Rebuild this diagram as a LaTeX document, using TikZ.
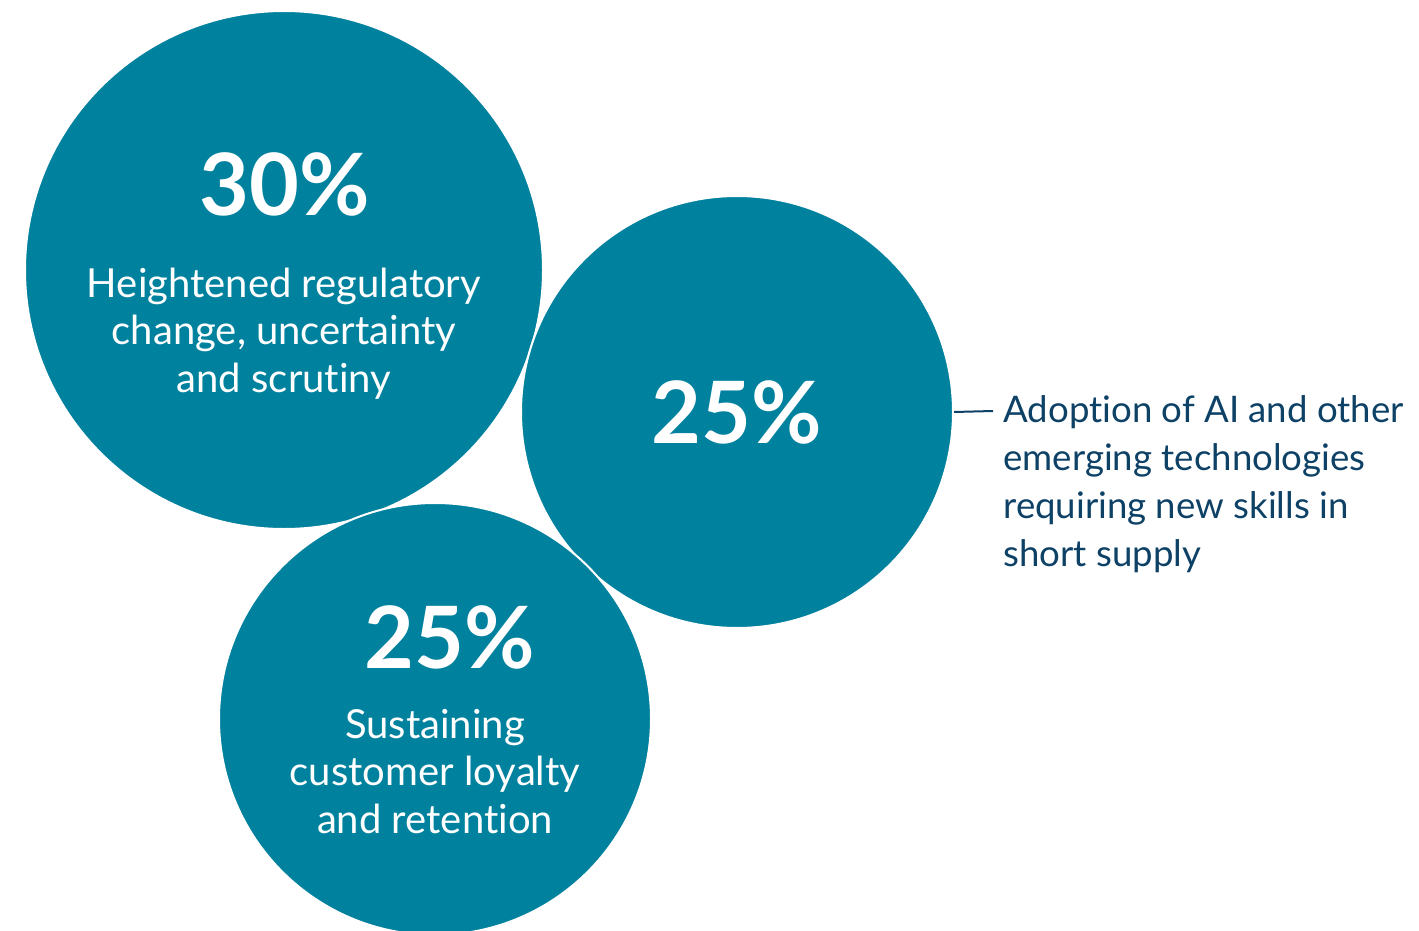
\documentclass[tikz,border=0pt]{standalone}
\usepackage{fontspec}
\setmainfont{Lato}[Ligatures=NoCommon]
\usepackage{xcolor}
\usepackage{tikz}

\definecolor{tealblue}{RGB}{0,129,158}
\definecolor{navytext}{RGB}{14,65,102}

\begin{document}
\begin{tikzpicture}[x=0.5pt, y=-0.5pt,
        bubble/.style={circle, fill=tealblue, draw=white, line width=1pt, inner sep=0pt},
        pct/.style={white, font=\fontsize{43}{43}\selectfont\bfseries, anchor=base},
        lbl/.style={white, font=\fontsize{20}{23.75}\selectfont, align=center, anchor=base},
        side/.style={navytext, font=\fontsize{18.3}{24}\selectfont, align=left, anchor=base west, inner sep=0pt}]
        \useasboundingbox (0,0) rectangle (1419,931);

        % The three circles
        \node[bubble, minimum size=259pt] (c1) at (284,270) {};
        \node[bubble, minimum size=216pt] (c2) at (737,412) {};
        \node[bubble, minimum size=216pt] (c3) at (435,719) {};

        % Circle 1 (base = last line)
        \node[pct] (p1) at (285,215) {30\%};
        \node[lbl] (l1) at (284,392) {Heightened regulatory\\change, uncertainty\\and scrutiny};

        % Circle 2
        \node[pct] (p2) at (737,443) {25\%};

        % Circle 3
        \node[pct] (p3) at (450,668) {25\%};
        \node[lbl] (l3) at (435,833) {Sustaining\\customer loyalty\\and retention};

        % Side label of circle 2
        \coordinate (tick) at (993,411);
        \draw[navytext, line width=1pt] (c2.east) -- (tick);
        \node[side] (s2) at (1003,566) {Adoption of AI and other\\emerging technologies\\requiring new skills in\\short supply};
    \end{tikzpicture}
\end{document}
